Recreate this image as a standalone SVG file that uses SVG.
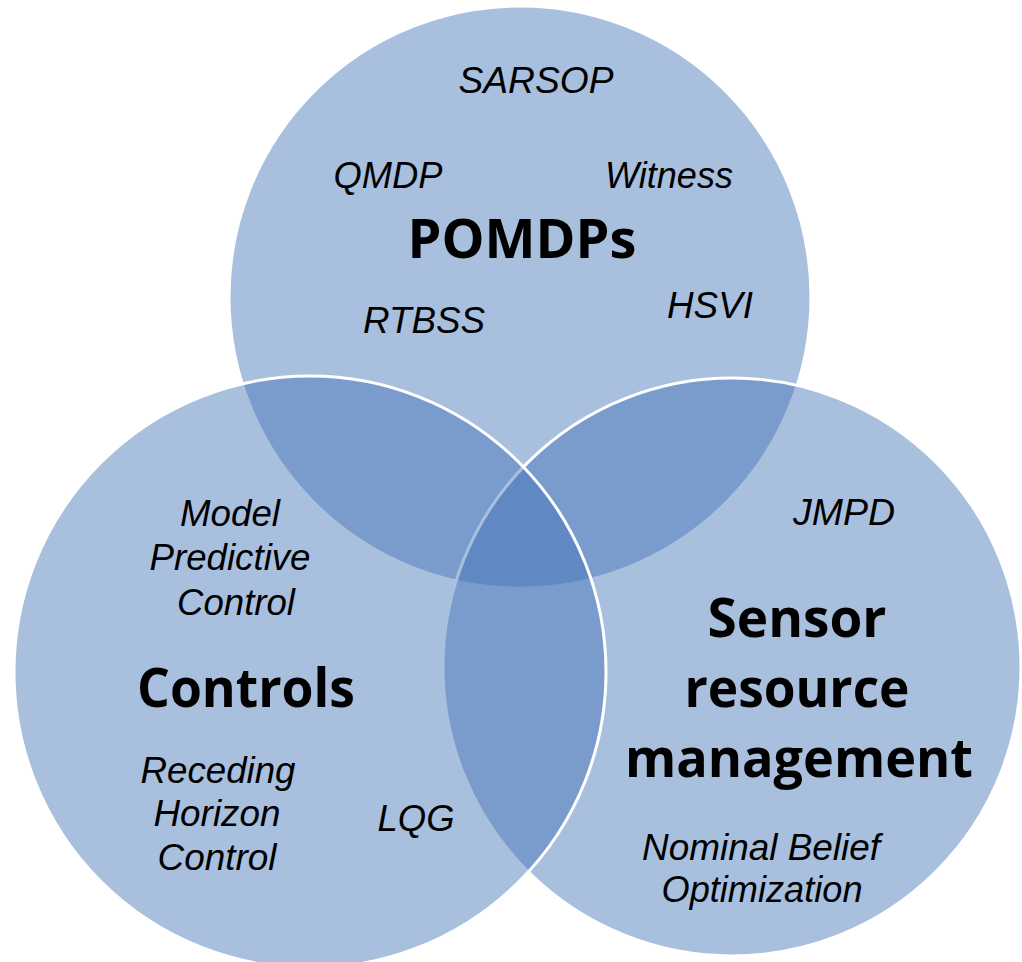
<svg xmlns="http://www.w3.org/2000/svg" width="1022" height="962" viewBox="0 0 1022 962">
<style>
.c{fill:#4071b6;fill-opacity:0.45;stroke:#ffffff;stroke-width:3}
.it{font-family:"Liberation Sans",Arial,sans-serif;font-style:italic;font-size:36px;fill:#000;text-anchor:middle}
.bd{font-family:"Open Sans","Liberation Sans",sans-serif;font-weight:700;font-size:54px;fill:#000;text-anchor:middle}
</style>
<rect width="1022" height="962" fill="#ffffff"/>
<g id="pomdps">
<circle class="c" cx="520" cy="297" r="291"/>
</g>
<g id="sensor">
<circle class="c" cx="732" cy="667" r="289"/>
</g>
<g id="controls">
<circle class="c" cx="310" cy="672" r="296"/>
</g>
<g id="connectors"></g>
<g id="labels-pomdps">
<text class="it" x="536" y="93" textLength="155" lengthAdjust="spacingAndGlyphs">SARSOP</text>
<text class="it" x="388" y="188" textLength="109" lengthAdjust="spacingAndGlyphs">QMDP</text>
<text class="it" x="669" y="188" textLength="128" lengthAdjust="spacingAndGlyphs">Witness</text>
<text class="bd" x="522" y="258" textLength="229" lengthAdjust="spacingAndGlyphs">POMDPs</text>
<text class="it" x="424" y="333" textLength="122" lengthAdjust="spacingAndGlyphs">RTBSS</text>
<text class="it" x="710" y="318" textLength="86" lengthAdjust="spacingAndGlyphs">HSVI</text>
</g>
<g id="labels-controls">
<text class="it" x="230" y="526" textLength="100" lengthAdjust="spacingAndGlyphs">Model</text>
<text class="it" x="230" y="570" textLength="161" lengthAdjust="spacingAndGlyphs">Predictive</text>
<text class="it" x="236" y="615" textLength="118" lengthAdjust="spacingAndGlyphs">Control</text>
<text class="bd" x="246" y="707" textLength="218" lengthAdjust="spacingAndGlyphs">Controls</text>
<text class="it" x="218" y="783" textLength="155" lengthAdjust="spacingAndGlyphs">Receding</text>
<text class="it" x="217" y="826" textLength="127" lengthAdjust="spacingAndGlyphs">Horizon</text>
<text class="it" x="217" y="870" textLength="119" lengthAdjust="spacingAndGlyphs">Control</text>
<text class="it" x="416" y="831" textLength="77" lengthAdjust="spacingAndGlyphs">LQG</text>
</g>
<g id="labels-sensor">
<text class="it" x="844" y="525" textLength="102" lengthAdjust="spacingAndGlyphs">JMPD</text>
<text class="bd" x="797" y="637" textLength="179" lengthAdjust="spacingAndGlyphs">Sensor</text>
<text class="bd" x="797" y="707" textLength="225" lengthAdjust="spacingAndGlyphs">resource</text>
<text class="bd" x="799" y="777" textLength="348" lengthAdjust="spacingAndGlyphs">management</text>
<text class="it" x="761" y="860" textLength="238" lengthAdjust="spacingAndGlyphs">Nominal Belief</text>
<text class="it" x="762" y="902" textLength="201" lengthAdjust="spacingAndGlyphs">Optimization</text>
</g>
</svg>
